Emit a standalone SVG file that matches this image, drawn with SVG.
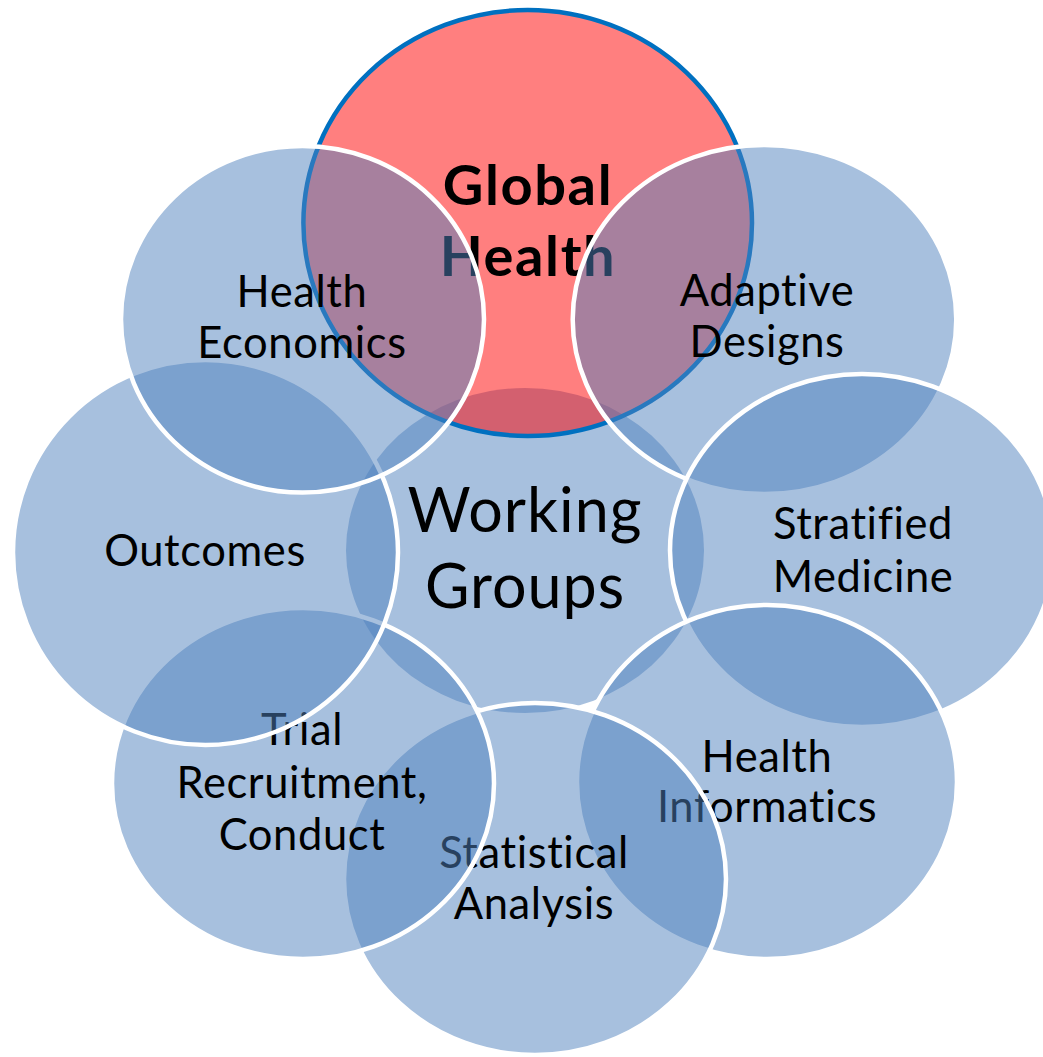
<svg xmlns="http://www.w3.org/2000/svg" width="1043" height="1057" viewBox="0 0 1043 1057">
<style>
.bub{fill:#4F81BD;fill-opacity:0.5;stroke:#FFFFFF;stroke-width:4.5}
.ctr{fill:#4F81BD;fill-opacity:0.5;stroke:none}
.red{fill:#FF0000;fill-opacity:0.5;stroke:#0070C0;stroke-width:4.5}
text{font-family:Lato,"Liberation Sans",sans-serif;fill:#000000;text-anchor:middle;font-variant-ligatures:none}
.lbl{font-size:43.5px;letter-spacing:0.6px}
.big{font-size:61px;letter-spacing:1px}
.bold{font-size:56px;font-weight:bold;letter-spacing:1.6px}
</style>
<rect width="1043" height="1057" fill="#FFFFFF"/>
<g id="connectors"/>
<g id="working-groups">
<ellipse class="ctr" cx="525" cy="550.5" rx="179" ry="162.5"/>
<text class="big" x="525" y="532">Working</text>
<text class="big" x="525" y="608">Groups</text>
</g>
<g id="global-health">
<ellipse class="red" cx="527.7" cy="223" rx="224.3" ry="213"/>
<text class="bold" x="528" y="205">Global</text>
<text class="bold" x="528" y="276">Health</text>
</g>
<g id="adaptive-designs">
<ellipse class="bub" cx="764.5" cy="319.5" rx="191.8" ry="174.5"/>
<text class="lbl" x="767" y="305.5">Adaptive</text>
<text class="lbl" x="767" y="357">Designs</text>
</g>
<g id="stratified-medicine">
<ellipse class="bub" cx="862" cy="550.5" rx="192" ry="176.5"/>
<text class="lbl" x="863" y="538.5">Stratified</text>
<text class="lbl" x="863" y="591.5">Medicine</text>
</g>
<g id="health-informatics">
<ellipse class="bub" cx="767" cy="782" rx="190" ry="177"/>
<text class="lbl" x="767" y="771.5">Health</text>
<text class="lbl" x="767" y="821.5">Informatics</text>
</g>
<g id="statistical-analysis">
<ellipse class="bub" cx="535" cy="879" rx="191" ry="176"/>
<text class="lbl" x="534" y="867.5">Statistical</text>
<text class="lbl" x="534" y="918.5">Analysis</text>
</g>
<g id="trial-recruitment">
<ellipse class="bub" cx="303" cy="783.5" rx="191" ry="175.5"/>
<text class="lbl" x="302" y="745">Trial</text>
<text class="lbl" x="302" y="798">Recruitment,</text>
<text class="lbl" x="302" y="850">Conduct</text>
</g>
<g id="outcomes">
<ellipse class="bub" cx="205.5" cy="552.5" rx="192.5" ry="192.5"/>
<text class="lbl" x="205" y="566">Outcomes</text>
</g>
<g id="health-economics">
<ellipse class="bub" cx="302.5" cy="319.3" rx="181.5" ry="173.3"/>
<text class="lbl" x="302" y="306.5">Health</text>
<text class="lbl" x="302" y="358">Economics</text>
</g>
</svg>
